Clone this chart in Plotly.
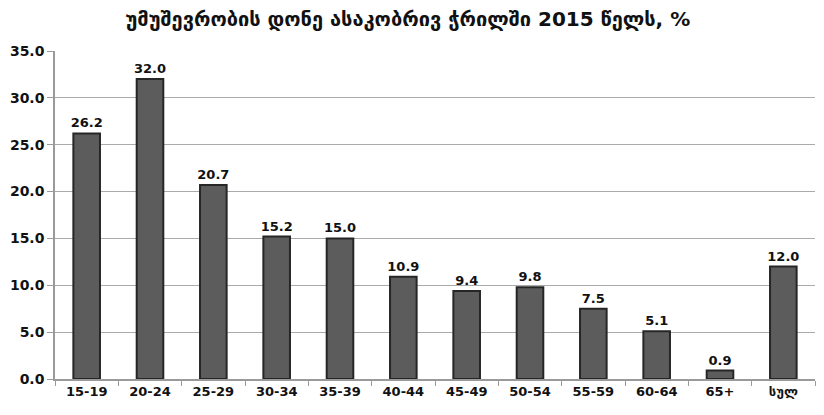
import plotly.graph_objects as go

categories = ["15-19", "20-24", "25-29", "30-34", "35-39", "40-44", "45-49",
              "50-54", "55-59", "60-64", "65+", "სულ"]
values = [26.2, 32.0, 20.7, 15.2, 15.0, 10.9, 9.4, 9.8, 7.5, 5.1, 0.9, 12.0]
title_text = "უმუშევრობის დონე ასაკობრივ ჭრილში 2015 წელს, %"

font_family = "DejaVu Sans, sans-serif"

fig = go.Figure()
fig.add_trace(go.Bar(
    x=categories, y=values,
    width=0.42,
    marker=dict(color="#5c5c5c", line=dict(color="#262626", width=2)),
    text=[f"<b>{v:.1f}</b>" for v in values],
    textposition="outside",
    constraintext="none",
    textfont=dict(family=font_family, size=13, color="#111"),
    cliponaxis=False,
))

fig.update_layout(
    width=824, height=415,
    margin=dict(l=55, r=9, t=51, b=36),
    paper_bgcolor="white", plot_bgcolor="white",
    title=dict(text="<b>" + title_text + "</b>", x=0.495, xanchor="center",
               y=0.955, yanchor="middle",
               font=dict(family=font_family, size=20, color="#111")),
    showlegend=False,
    font=dict(family=font_family, color="#111"),
)
fig.update_xaxes(
    showline=True, linecolor="#9a9a9a", linewidth=1.5,
    ticks="outside", ticklen=5, tickcolor="#9a9a9a", tickson="boundaries",
    tickfont=dict(size=13, family=font_family, color="#111"),
    tickprefix="<b>", ticksuffix="</b>",
)
fig.update_yaxes(
    range=[0, 35], dtick=5, tickformat=".1f",
    showgrid=True, gridcolor="#aaaaaa", gridwidth=1.2,
    showline=True, linecolor="#9a9a9a", linewidth=1.5,
    ticks="outside", ticklen=6, tickcolor="#9a9a9a",
    tickfont=dict(size=14, family=font_family, color="#111"),
    tickprefix="<b>", ticksuffix="</b>",
    zeroline=False,
)

fig.write_html("out.html")
